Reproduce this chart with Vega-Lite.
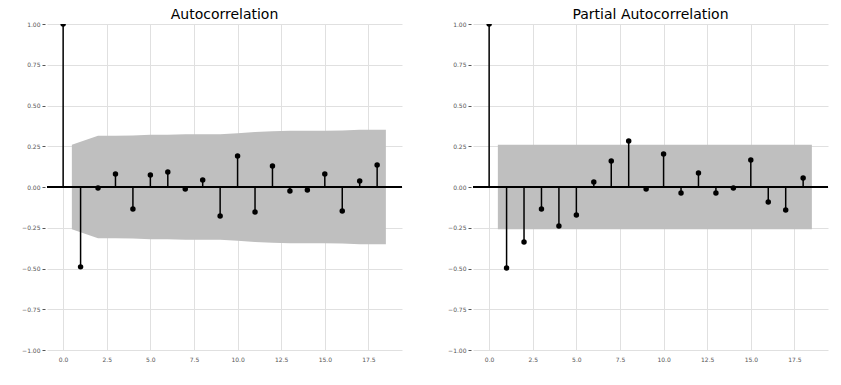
{
  "$schema": "https://vega.github.io/schema/vega-lite/v6.json",
  "autosize": {"type": "pad"},
  "padding": {"left": 21, "top": 8, "right": 0, "bottom": 0},
  "background": "white",
  "config": {
    "font": "DejaVu Sans",
    "view": {"stroke": null},
    "title": {"font": "DejaVu Sans", "fontSize": 14, "fontWeight": "normal", "color": "#000000", "anchor": "middle", "offset": -1},
    "axis": {
      "labelFont": "DejaVu Sans", "labelFontSize": 6, "labelColor": "#555555",
      "domain": false, "gridColor": "#e0e0e0", "gridWidth": 1, "title": null
    },
    "concat": {"spacing": 44}
  },
  "datasets": {
    "acf": [
      {"lag": 0, "value": 1.0}, {"lag": 1, "value": -0.49}, {"lag": 2, "value": -0.006},
      {"lag": 3, "value": 0.08}, {"lag": 4, "value": -0.135}, {"lag": 5, "value": 0.074},
      {"lag": 6, "value": 0.092}, {"lag": 7, "value": -0.012}, {"lag": 8, "value": 0.043},
      {"lag": 9, "value": -0.178}, {"lag": 10, "value": 0.19}, {"lag": 11, "value": -0.153},
      {"lag": 12, "value": 0.129}, {"lag": 13, "value": -0.025}, {"lag": 14, "value": -0.018},
      {"lag": 15, "value": 0.08}, {"lag": 16, "value": -0.147}, {"lag": 17, "value": 0.037},
      {"lag": 18, "value": 0.135}
    ],
    "acfband": [
      {"x": 0.5, "lo": -0.259, "hi": 0.259}, {"x": 2, "lo": -0.315, "hi": 0.315},
      {"x": 3, "lo": -0.315, "hi": 0.315}, {"x": 4, "lo": -0.316, "hi": 0.316},
      {"x": 5, "lo": -0.32, "hi": 0.32}, {"x": 6, "lo": -0.321, "hi": 0.321},
      {"x": 7, "lo": -0.323, "hi": 0.323}, {"x": 8, "lo": -0.323, "hi": 0.323},
      {"x": 9, "lo": -0.324, "hi": 0.324}, {"x": 10, "lo": -0.33, "hi": 0.33},
      {"x": 11, "lo": -0.337, "hi": 0.337}, {"x": 12, "lo": -0.342, "hi": 0.342},
      {"x": 13, "lo": -0.345, "hi": 0.345}, {"x": 14, "lo": -0.345, "hi": 0.345},
      {"x": 15, "lo": -0.345, "hi": 0.345}, {"x": 16, "lo": -0.347, "hi": 0.347},
      {"x": 17, "lo": -0.351, "hi": 0.351}, {"x": 18.5, "lo": -0.351, "hi": 0.351}
    ],
    "pacf": [
      {"lag": 0, "value": 1.0}, {"lag": 1, "value": -0.497}, {"lag": 2, "value": -0.337},
      {"lag": 3, "value": -0.135}, {"lag": 4, "value": -0.239}, {"lag": 5, "value": -0.172},
      {"lag": 6, "value": 0.031}, {"lag": 7, "value": 0.16}, {"lag": 8, "value": 0.282},
      {"lag": 9, "value": -0.012}, {"lag": 10, "value": 0.202}, {"lag": 11, "value": -0.037},
      {"lag": 12, "value": 0.086}, {"lag": 13, "value": -0.037}, {"lag": 14, "value": -0.006},
      {"lag": 15, "value": 0.166}, {"lag": 16, "value": -0.092}, {"lag": 17, "value": -0.141},
      {"lag": 18, "value": 0.055}
    ],
    "pacfband": [
      {"x": 0.5, "lo": -0.259, "hi": 0.259}, {"x": 18.5, "lo": -0.259, "hi": 0.259}
    ]
  },
  "hconcat": [
    {
      "title": "Autocorrelation",
      "width": 355, "height": 326,
      "layer": [
        {
          "data": {"name": "acfband"},
          "mark": {"type": "area", "color": "#bfbfbf", "opacity": 1},
          "encoding": {
            "x": {"field": "x", "type": "quantitative", "scale": {"domain": [-0.925, 19.425], "nice": false, "zero": false},
                  "axis": {"values": [0, 2.5, 5, 7.5, 10, 12.5, 15, 17.5], "format": ".1f", "ticks": false, "labelPadding": 6}},
            "y": {"field": "hi", "type": "quantitative", "scale": {"domain": [-1, 1], "nice": false},
                  "axis": {"values": [-1, -0.75, -0.5, -0.25, 0, 0.25, 0.5, 0.75, 1], "format": ".2f", "ticks": true, "tickSize": 3, "tickColor": "#555555", "offset": 2, "labelPadding": 2}},
            "y2": {"field": "lo"}
          }
        },
        {
          "data": {"name": "acf"},
          "mark": {"type": "rule", "color": "#000000", "strokeWidth": 1.5},
          "encoding": {"y": {"datum": 0, "type": "quantitative"}}
        },
        {
          "data": {"name": "acf"},
          "mark": {"type": "rule", "color": "#000000", "strokeWidth": 1.5},
          "encoding": {
            "x": {"field": "lag", "type": "quantitative"},
            "y": {"field": "value", "type": "quantitative"},
            "y2": {"datum": 0}
          }
        },
        {
          "data": {"name": "acf"},
          "mark": {"type": "point", "filled": true, "color": "#000000", "opacity": 1, "size": 30, "clip": true},
          "encoding": {
            "x": {"field": "lag", "type": "quantitative"},
            "y": {"field": "value", "type": "quantitative"}
          }
        }
      ]
    },
    {
      "title": "Partial Autocorrelation",
      "width": 355, "height": 326,
      "layer": [
        {
          "data": {"name": "pacfband"},
          "mark": {"type": "area", "color": "#bfbfbf", "opacity": 1},
          "encoding": {
            "x": {"field": "x", "type": "quantitative", "scale": {"domain": [-0.925, 19.425], "nice": false, "zero": false},
                  "axis": {"values": [0, 2.5, 5, 7.5, 10, 12.5, 15, 17.5], "format": ".1f", "ticks": false, "labelPadding": 6}},
            "y": {"field": "hi", "type": "quantitative", "scale": {"domain": [-1, 1], "nice": false},
                  "axis": {"values": [-1, -0.75, -0.5, -0.25, 0, 0.25, 0.5, 0.75, 1], "format": ".2f", "ticks": true, "tickSize": 3, "tickColor": "#555555", "offset": 2, "labelPadding": 2}},
            "y2": {"field": "lo"}
          }
        },
        {
          "data": {"name": "pacf"},
          "mark": {"type": "rule", "color": "#000000", "strokeWidth": 1.5},
          "encoding": {"y": {"datum": 0, "type": "quantitative"}}
        },
        {
          "data": {"name": "pacf"},
          "mark": {"type": "rule", "color": "#000000", "strokeWidth": 1.5},
          "encoding": {
            "x": {"field": "lag", "type": "quantitative"},
            "y": {"field": "value", "type": "quantitative"},
            "y2": {"datum": 0}
          }
        },
        {
          "data": {"name": "pacf"},
          "mark": {"type": "point", "filled": true, "color": "#000000", "opacity": 1, "size": 30, "clip": true},
          "encoding": {
            "x": {"field": "lag", "type": "quantitative"},
            "y": {"field": "value", "type": "quantitative"}
          }
        }
      ]
    }
  ]
}
